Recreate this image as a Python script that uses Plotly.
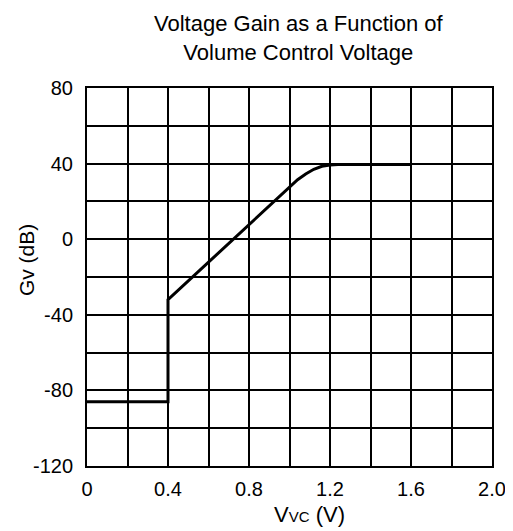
import plotly.graph_objects as go

# Data
vvc = [0.0, 0.4, 0.4, 0.52, 0.72, 0.92, 0.96, 1.0, 1.04, 1.08, 1.12, 1.16, 1.2, 1.24, 1.6]
gv = [-86, -86, -32, -20, 0, 20, 24, 28, 31.5, 34.5, 37, 38.6, 39.3, 39.5, 39.5]

x_tickvals = [0, 0.4, 0.8, 1.2, 1.6, 2.0]
x_ticktext = ["0", "0.4", "0.8", "1.2", "1.6", "2.0"]
y_tickvals = [-120, -80, -40, 0, 40, 80]
y_ticktext = ["-120", "-80", "-40", "0", "40", "80"]

title_text = "Voltage Gain as a Function of<br>Volume Control Voltage"
x_title = "V<span style='font-size:15px'>VC</span> (V)"
y_title = "Gv (dB)"

font_family = "Liberation Sans, Arial, sans-serif"

fig = go.Figure()
fig.add_trace(go.Scatter(
    x=vvc, y=gv, mode="lines",
    line=dict(color="black", width=3),
    showlegend=False, hoverinfo="skip",
))

fig.update_layout(
    width=505, height=523,
    margin=dict(l=79, r=21, t=80, b=65),
    paper_bgcolor="white", plot_bgcolor="white",
    font=dict(family=font_family, color="black", size=20),
    annotations=[
        dict(text=title_text, xref="paper", yref="paper", x=0.523, y=1.208,
             xanchor="center", yanchor="top", showarrow=False,
             font=dict(size=22, family=font_family, color="black")),
        dict(text=x_title, xref="paper", yref="paper", x=0.55, y=-0.128,
             xanchor="center", yanchor="middle", showarrow=False,
             font=dict(size=22, family=font_family, color="black")),
        dict(text=y_title, xref="paper", yref="paper", x=-0.148, y=0.545,
             xanchor="center", yanchor="middle", showarrow=False, textangle=-90,
             font=dict(size=21, family=font_family, color="black")),
    ],
)

fig.update_xaxes(
    range=[0, 2], tickvals=x_tickvals, ticktext=x_ticktext,
    showgrid=True, gridcolor="black", gridwidth=2,
    minor=dict(dtick=0.2, tick0=0, showgrid=True, gridcolor="black", gridwidth=2),
    showline=True, linecolor="black", linewidth=2, mirror=True,
    zeroline=False, ticks="", tickfont=dict(size=20), automargin=False,
    ticklabelstandoff=4,
)
fig.update_yaxes(
    range=[-120, 80], tickvals=y_tickvals, ticktext=y_ticktext,
    showgrid=True, gridcolor="black", gridwidth=2,
    minor=dict(dtick=20, tick0=0, showgrid=True, gridcolor="black", gridwidth=2),
    showline=True, linecolor="black", linewidth=2, mirror=True,
    zeroline=False, ticks="", tickfont=dict(size=20), automargin=False,
    ticklabelstandoff=8,
)

fig.write_html("out.html")
